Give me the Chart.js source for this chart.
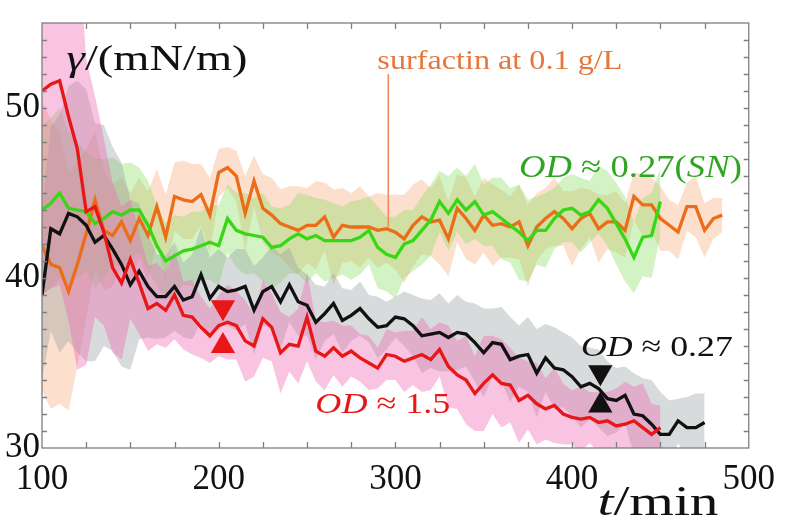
<!DOCTYPE html>
<html lang="en">
<head>
    <meta charset="UTF-8">
    <title>Surface tension vs time</title>
    <style>
        body { margin: 0; background: #fff; }
        canvas { display: block; }
    </style>
    <script src="https://cdn.jsdelivr.net/npm/chart.js"></script>
</head>
<body>
    <canvas id="chart" width="786" height="527"></canvas>
    <script>
        // time (min), sampled every 5 min
        const minutes = [100, 105, 110, 115, 120, 125, 130, 135, 140, 145, 150, 155, 160, 165, 170, 175, 180, 185, 190, 195,
            200, 205, 210, 215, 220, 225, 230, 235, 240, 245, 250, 255, 260, 265, 270, 275, 280, 285, 290, 295,
            300, 305, 310, 315, 320, 325, 330, 335, 340, 345, 350, 355, 360, 365, 370, 375, 380, 385, 390, 395,
            400, 405, 410, 415, 420, 425, 430, 435, 440, 445, 450, 455, 460, 465, 470, 475, 480, 485];

        // OD ~ 1.5 (red)
        const od15Mean = [51.0, 51.4, 51.6, 49.5, 47.6, 43.9, 44.2, 42.7, 40.6, 39.7,
            41.1, 39.7, 38.2, 38.5, 38.1, 39.0, 37.8, 37.7, 37.1, 36.6,
            37.2, 37.4, 37.2, 36.3, 36.0, 37.6, 37.1, 35.6, 36.1, 36.0,
            37.7, 35.7, 35.4, 35.9, 35.4, 35.7, 35.3, 35.0, 34.7, 35.5,
            35.4, 35.1, 35.3, 35.5, 35.2, 35.8, 34.8, 34.3, 34.0, 33.2,
            33.8, 34.3, 33.8, 33.7, 32.8, 33.1, 32.6, 32.3, 32.5, 32.0,
            31.8, 31.7, 31.8, 31.5, 31.6, 31.3, 31.4, 31.6, 31.2, 30.8,
            31.2];
        const od15Sd = [12, 12, 12, 12, 13, 9, 6.5, 5.5, 5, 4.5,
            3.5, 3, 2.5, 2.4, 2.2, 2.6, 2.0, 2.2, 1.8, 1.6,
            1.8, 2.2, 2.0, 2.4, 1.8, 2.3, 2.0, 2.4, 1.6, 2.2,
            2.6, 1.8, 2.0, 1.6, 1.8, 1.5, 1.4, 1.6, 1.2, 1.5,
            1.4, 1.8, 1.6, 2.2, 1.8, 1.6, 2.4, 2.0, 2.6, 2.2,
            2.8, 2.3, 2.6, 2.2, 2.5, 2.0, 2.4, 1.8, 2.2, 1.8,
            1.6, 1.9, 1.5, 1.8, 1.7, 2.2, 2.5, 2.0, 2.6, 1.8,
            1.3];

        // OD ~ 0.27 (black)
        const od027Mean = [39.0, 42.9, 42.6, 43.8, 43.6, 43.1, 42.1, 42.5, 41.7, 40.8,
            39.6, 40.4, 39.5, 38.9, 38.9, 39.5, 38.7, 38.9, 40.2, 38.8,
            39.5, 39.2, 39.3, 39.5, 38.1, 39.2, 39.5, 38.6, 39.6, 38.6,
            38.4, 37.4, 37.9, 38.5, 37.5, 37.8, 38.2, 37.6, 37.1, 37.2,
            37.7, 37.6, 37.2, 36.6, 36.7, 36.8, 36.5, 36.8, 36.7, 36.2,
            35.6, 36.2, 36.1, 35.2, 35.4, 35.5, 34.4, 35.3, 34.7, 34.6,
            34.2, 33.6, 33.8, 33.5, 32.9, 32.8, 33.1, 32.0, 31.9, 31.4,
            30.8, 30.8, 31.6, 31.2, 31.2, 31.5];
        const od027Sd = [5, 6, 7, 7.5, 8, 8, 7, 6.5, 6, 6,
            5, 4, 3, 2.5, 2.4, 2.6, 2.2, 2.5, 2.8, 2.4,
            2.2, 2.0, 2.4, 2.2, 2.6, 2.0, 2.4, 2.8, 2.2, 2.0,
            1.8, 2.2, 1.6, 1.8, 1.9, 1.5, 1.6, 1.4, 1.8, 1.4,
            1.2, 1.6, 1.8, 2.2, 2.0, 2.3, 2.0, 2.2, 1.9, 2.3,
            2.6, 2.0, 2.2, 2.5, 1.8, 2.2, 2.6, 2.0, 2.4, 2.2,
            2.3, 2.4, 2.1, 2.3, 2.2, 1.9, 1.7, 2.4, 2.2, 2.6,
            2.5, 2.0, 1.3, 1.8, 2.0, 1.7];

        // OD ~ 0.27 supernatant (green)
        const snMean = [44.0, 44.4, 45.0, 44.1, 44.0, 43.9, 43.2, 43.5, 43.9, 43.7,
            44.0, 44.0, 43.1, 41.9, 41.0, 41.3, 41.6, 41.7, 41.9, 42.1,
            41.9, 43.5, 42.8, 42.6, 42.5, 42.4, 41.8, 41.9, 42.3, 42.6,
            42.3, 42.5, 42.2, 42.2, 42.2, 42.2, 42.4, 42.8, 41.8, 41.4,
            41.2, 42.0, 42.2, 42.8, 43.4, 44.5, 43.8, 44.6, 44.0, 44.5,
            43.7, 43.9, 43.5, 43.1, 42.7, 42.2, 42.8, 42.8, 43.5, 44.0,
            44.1, 43.7, 43.9, 44.6, 44.1, 43.2, 42.3, 41.2, 42.4, 42.5,
            44.5];
        const snSd = [5, 5, 5, 4.5, 4, 3.5, 3.8, 3.5, 3.2, 3.0,
            2.8, 2.5, 2.6, 2.4, 2.2, 2.4, 2.0, 2.2, 2.0, 2.2,
            2.4, 2.0, 2.2, 2.4, 2.2, 2.6, 2.4, 2.2, 2.0, 2.4,
            2.6, 2.2, 2.4, 2.2, 2.0, 2.3, 2.2, 2.0, 2.4, 2.2,
            2.4, 2.0, 1.8, 2.0, 2.1, 1.8, 2.2, 1.9, 2.0, 2.2,
            1.8, 2.0, 2.4, 2.2, 2.8, 2.4, 2.0, 2.2, 1.8, 1.9,
            2.0, 2.2, 1.8, 2.0, 2.2, 2.4, 2.5, 2.1, 2.3, 2.5,
            2.0];

        // surfactin 0.1 g/L (orange)
        const surfMean = [41.9, 40.8, 40.6, 39.2, 40.8, 42.6, 44.6, 42.8, 42.5, 43.3,
            42.2, 43.5, 42.5, 44.2, 42.4, 44.8, 44.6, 44.5, 44.9, 43.7,
            46.2, 46.5, 46.0, 43.8, 45.7, 44.1, 43.7, 43.2, 43.0, 42.8,
            43.1, 43.1, 43.6, 42.4, 43.1, 43.0, 43.0, 43.0, 42.8, 42.9,
            42.7, 42.3, 43.1, 43.6, 43.3, 43.4, 42.3, 44.1, 43.5, 42.8,
            43.7, 43.1, 43.2, 43.0, 43.3, 41.9, 43.0, 43.5, 43.9, 43.5,
            42.9, 43.5, 43.8, 42.9, 43.3, 43.3, 42.8, 44.8, 44.3, 44.3,
            43.5, 43.1, 42.7, 44.2, 44.2, 42.8, 43.5, 43.7];
        const surfSd = [8.5, 8.5, 8, 7, 6, 5, 4, 3.5, 3, 2.6,
            2.8, 2.4, 2.6, 2.2, 2.5, 2.0, 2.3, 2.2, 1.8, 2.2,
            1.4, 1.2, 1.5, 2.2, 1.5, 2.0, 2.2, 2.0, 2.4, 2.6,
            2.2, 2.6, 2.0, 2.8, 2.2, 2.0, 2.4, 1.8, 2.2, 2.0,
            2.2, 2.6, 2.4, 2.2, 2.0, 2.6, 2.2, 2.0, 2.4, 2.0,
            2.2, 2.4, 2.0, 1.8, 2.2, 2.4, 2.0, 1.8, 2.0, 1.6,
            2.2, 1.8, 1.4, 2.0, 1.6, 1.8, 1.6, 1.4, 1.8, 1.6,
            1.9, 1.5, 1.6, 1.4, 1.8, 1.6, 1.2, 1.0];

        // pairs of triangles (red: OD 1.5, black: OD 0.27)
        const markerTimes = [202.4, 416];
        const markerDown = [38.28, 34.45];
        const markerUp = [36.0, 32.5];

        const xTickLabels = [100, 200, 300, 400, 500];
        const yTickLabels = [30, 40, 50];

        const RED = 'rgb(232, 22, 22)';
        const BLACK = '#111';
        const GREEN = 'rgb(55, 215, 20)';
        const ORANGE = 'rgb(236, 108, 24)';
        const SERIF = '"Liberation Serif", "DejaVu Serif", serif';

        function pts(vals, off) {
            return vals.map((v, i) => ({ x: minutes[i], y: off ? v + off[i] : v }));
        }
        function lowPts(vals, sd) {
            return vals.map((v, i) => ({ x: minutes[i], y: v - sd[i] }));
        }
        function band(mean, sd, color) {
            return [
                { data: pts(mean, sd), fill: '+1', backgroundColor: color, borderWidth: 0, pointRadius: 0, order: 10 },
                { data: lowPts(mean, sd), fill: false, borderWidth: 0, pointRadius: 0, order: 10 }
            ];
        }
        function line(mean, color, order) {
            return { data: pts(mean), borderColor: color, borderWidth: 3.3, pointRadius: 0, fill: false, order: order };
        }
        function markers(i, color) {
            return {
                type: 'scatter',
                data: [{ x: markerTimes[i], y: markerDown[i] }, { x: markerTimes[i], y: markerUp[i] }],
                pointStyle: 'triangle',
                pointRotation: [180, 0],
                pointRadius: 14,
                pointBackgroundColor: color,
                pointBorderColor: color,
                pointBorderWidth: 0,
                showLine: false,
                order: 0
            };
        }

        // text annotations: positions given in data units
        const notes = [
            { parts: [{ t: 'γ', i: 1 }, { t: '/(mN/m)' }], x: 113.9, y: 52.25, size: 36, w: 181, color: BLACK },
            { parts: [{ t: 'surfactin at 0.1 g/L' }], x: 289.8, y: 52.3, size: 27, w: 245, color: 'rgb(228, 120, 60)' },
            { parts: [{ t: 'OD', i: 1 }, { t: ' ≈ 0.27(' }, { t: 'SN', i: 1 }, { t: ')' }], x: 369.9, y: 45.94, size: 32, w: 223, color: 'rgb(48, 165, 35)' },
            { parts: [{ t: 'OD', i: 1 }, { t: ' ≈ 0.27' }], x: 405, y: 35.41, size: 30, w: 152, color: BLACK },
            { parts: [{ t: 'OD', i: 1 }, { t: ' ≈ 1.5' }], x: 254.7, y: 32.05, size: 30, w: 135, color: RED },
            { parts: [{ t: 't', i: 1 }, { t: '/min' }], x: 414.4, y: 26.06, size: 42, w: 121, color: BLACK }
        ];

        function drawParts(ctx, n, px, py) {
            let total = 0;
            n.parts.forEach(p => {
                ctx.font = (p.i ? 'italic ' : '') + n.size + 'px ' + SERIF;
                p.wd = ctx.measureText(p.t).width;
                total += p.wd;
            });
            ctx.save();
            ctx.translate(px, py);
            ctx.scale(n.w / total, 1);
            ctx.fillStyle = n.color;
            ctx.textBaseline = 'alphabetic';
            let cx = 0;
            n.parts.forEach(p => {
                ctx.font = (p.i ? 'italic ' : '') + n.size + 'px ' + SERIF;
                ctx.fillText(p.t, cx, 0);
                cx += p.wd;
            });
            ctx.restore();
        }

        const overlay = {
            id: 'overlay',
            afterDatasetsDraw(chart) {
                const ctx = chart.ctx;
                const a = chart.chartArea;
                const xs = chart.scales.x, ys = chart.scales.y;
                ctx.save();
                // leader line for surfactin label
                ctx.strokeStyle = 'rgb(238, 140, 95)';
                ctx.lineWidth = 1.6;
                ctx.beginPath();
                ctx.moveTo(xs.getPixelForValue(296), ys.getPixelForValue(52.0));
                ctx.lineTo(xs.getPixelForValue(296), ys.getPixelForValue(43.0));
                ctx.stroke();

                // frame and inward ticks
                ctx.strokeStyle = '#7f7f7f';
                ctx.lineWidth = 1.3;
                ctx.strokeRect(a.left, a.top, a.right - a.left, a.bottom - a.top);
                ctx.beginPath();
                for (let t = 125; t < 500; t += 25) {
                    const x = Math.round(xs.getPixelForValue(t)) + 0.5;
                    ctx.moveTo(x, a.bottom); ctx.lineTo(x, a.bottom - 6);
                    ctx.moveTo(x, a.top); ctx.lineTo(x, a.top + 6);
                }
                for (let v = 31; v < 55; v += 1) {
                    const y = Math.round(ys.getPixelForValue(v)) + 0.5;
                    ctx.moveTo(a.left, y); ctx.lineTo(a.left + 5, y);
                    ctx.moveTo(a.right, y); ctx.lineTo(a.right - 5, y);
                }
                ctx.stroke();

                notes.forEach(n => drawParts(ctx, n, xs.getPixelForValue(n.x), ys.getPixelForValue(n.y)));
                ctx.restore();
            }
        };

        const datasets = [
            markers(0, RED),
            markers(1, BLACK),
            line(od15Mean, RED, 1),
            line(snMean, GREEN, 2),
            line(od027Mean, BLACK, 3),
            line(surfMean, ORANGE, 4),
            ...band(od15Mean, od15Sd, 'rgba(240, 100, 180, 0.38)'),
            ...band(od027Mean, od027Sd, 'rgba(150, 160, 160, 0.38)'),
            ...band(snMean, snSd, 'rgba(120, 220, 80, 0.33)'),
            ...band(surfMean, surfSd, 'rgba(245, 150, 90, 0.3)')
        ];

        new Chart(document.getElementById('chart'), {
            type: 'line',
            data: { datasets: datasets },
            options: {
                responsive: false,
                animation: false,
                devicePixelRatio: 1,
                layout: { padding: { left: 0, right: 25, top: 5, bottom: 0 } },
                plugins: { legend: { display: false }, tooltip: { enabled: false } },
                elements: { line: { tension: 0 } },
                scales: {
                    x: {
                        type: 'linear',
                        min: 100,
                        max: 500,
                        afterBuildTicks: s => { s.ticks = xTickLabels.map(v => ({ value: v })); },
                        afterFit: s => { s.height = 79; },
                        grid: { display: false, drawTicks: false },
                        border: { display: false },
                        ticks: { color: '#111', font: { family: SERIF, size: 35 }, padding: 11, maxRotation: 0, autoSkip: false }
                    },
                    y: {
                        min: 30,
                        max: 55,
                        afterBuildTicks: s => { s.ticks = yTickLabels.map(v => ({ value: v })); },
                        afterFit: s => { s.width = 42; },
                        grid: { display: false, drawTicks: false },
                        border: { display: false },
                        ticks: { color: '#111', font: { family: SERIF, size: 35 }, padding: 2 }
                    }
                }
            },
            plugins: [overlay]
        });
    </script>
</body>
</html>
